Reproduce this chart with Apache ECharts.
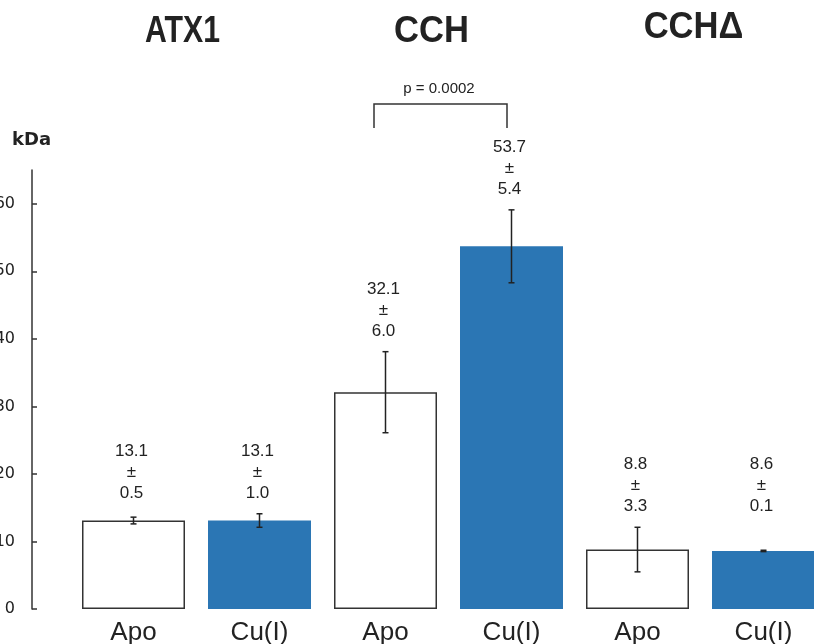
<!DOCTYPE html>
<html>
<head>
<meta charset="utf-8">
<script src="https://cdn.jsdelivr.net/npm/echarts@6/dist/echarts.min.js"></script>
<style>html,body{margin:0;padding:0;background:#fff}#c{width:814px;height:644px}</style>
</head>
<body>
<div id="c"></div>
<script>
const categories = ['Apo', 'Cu(I)', 'Apo', 'Cu(I)', 'Apo', 'Cu(I)'];
const groups = ['ATX1', 'CCH', 'CCHΔ'];
const means = [13.1, 13.1, 32.1, 53.7, 8.8, 8.6];
const sds = [0.5, 1.0, 6.0, 5.4, 3.3, 0.1];
const meanText = ['13.1', '13.1', '32.1', '53.7', '8.8', '8.6'];
const sdText = ['0.5', '1.0', '6.0', '5.4', '3.3', '0.1'];
const yTicks = [0, 10, 20, 30, 40, 50, 60];
const pValueText = 'p = 0.0002';

const BLUE = '#2B76B4';
const INK = '#222222';

// label anchor: pairs with nearly equal means share the higher error-bar top
const anchors = means.map((m, i) => {
  const j = i % 2 === 0 ? i + 1 : i - 1;
  const own = m + sds[i];
  if (Math.abs(m - means[j]) < 1) return Math.max(own, means[j] + sds[j]);
  return own;
});

const chart = echarts.init(document.getElementById('c'), null, {renderer: 'canvas'});

const titleFont = 'bold 36px "Liberation Sans"';
const option = {
  animation: false,
  backgroundColor: '#fff',
  grid: {left: 70.5, right: -12.5, top: 170, bottom: 35, containLabel: false, outerBoundsMode: 'none'},
  xAxis: {
    type: 'category',
    data: categories,
    axisLine: {show: false},
    axisTick: {show: false},
    axisLabel: {fontSize: 26, color: INK, fontFamily: 'Liberation Sans', margin: 11, interval: 0}
  },
  yAxis: {
    type: 'value',
    min: 0, max: 65, interval: 10,
    offset: 38.5,
    axisLine: {show: true, lineStyle: {color: '#333', width: 1.5}},
    axisTick: {show: true, inside: true, length: 5, lineStyle: {color: '#333', width: 1.5}, customValues: yTicks},
    axisLabel: {fontSize: 16, color: INK, fontFamily: 'DejaVu Sans', margin: 17, customValues: yTicks},
    splitLine: {show: false}
  },
  graphic: [
    {type: 'text', left: 12, top: 131, style: {text: 'kDa', font: 'bold 18px "DejaVu Sans"', fill: INK}},
    {type: 'text', x: 182.5, y: 32, scaleX: 0.84, style: {text: groups[0], font: titleFont, fill: INK, align: 'center', verticalAlign: 'middle'}},
    {type: 'text', x: 431.5, y: 32.5, scaleX: 0.96, style: {text: groups[1], font: titleFont, fill: INK, align: 'center', verticalAlign: 'middle'}},
    {type: 'text', x: 693.5, y: 28.5, scaleX: 0.96, style: {text: groups[2], font: titleFont, fill: INK, align: 'center', verticalAlign: 'middle'}},
    {type: 'polyline', shape: {points: [[374, 128], [374, 104], [507, 104], [507, 128]]}, style: {stroke: '#333', lineWidth: 1.5, fill: null}},
    {type: 'text', x: 439, y: 89, style: {text: pValueText, font: '15px "Liberation Sans"', fill: INK, align: 'center', verticalAlign: 'middle'}}
  ],
  series: [
    {
      type: 'bar',
      barWidth: 103,
      data: means.map((v, i) => ({
        value: v,
        itemStyle: i % 2 === 0
          ? {color: '#ffffff', borderColor: '#333', borderWidth: 1.5}
          : {color: BLUE, borderWidth: 0}
      }))
    },
    {
      type: 'custom',
      data: means.map((m, i) => [i, m - sds[i], m + sds[i]]),
      renderItem: function (params, api) {
        const lo = api.coord([api.value(0), api.value(1)]);
        const hi = api.coord([api.value(0), api.value(2)]);
        const x = lo[0], cap = 3;
        const st = {stroke: INK, lineWidth: 1.5};
        return {type: 'group', children: [
          {type: 'line', shape: {x1: x, y1: lo[1], x2: x, y2: hi[1]}, style: st},
          {type: 'line', shape: {x1: x - cap, y1: lo[1], x2: x + cap, y2: lo[1]}, style: st},
          {type: 'line', shape: {x1: x - cap, y1: hi[1], x2: x + cap, y2: hi[1]}, style: st}
        ]};
      },
      z: 5
    },
    {
      type: 'custom',
      data: anchors.map((a, i) => [i, a]),
      renderItem: function (params, api) {
        const i = params.dataIndex;
        const p = api.coord([api.value(0), api.value(1)]);
        return {type: 'text', x: p[0] - 2, y: p[1] - 10, style: {
          text: meanText[i] + '\n±\n' + sdText[i],
          font: '17px "Liberation Sans"', fill: INK, align: 'center', verticalAlign: 'bottom', lineHeight: 21
        }};
      },
      z: 6
    }
  ]
};
chart.setOption(option);
</script>
</body>
</html>
